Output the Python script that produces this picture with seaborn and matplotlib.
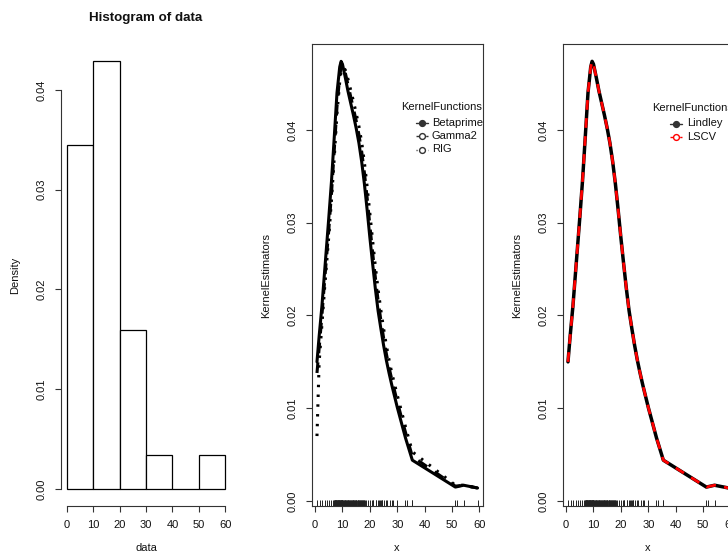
import matplotlib
matplotlib.use("Agg")
import matplotlib.pyplot as plt
from matplotlib.lines import Line2D
import seaborn as sns

# Observations (histogram + rug)
data = [
    0.7, 1.7, 2.7, 3.6, 4.4, 5.1, 5.8, 6.4,
    6.9, 7.0, 7.1, 7.2, 7.3, 7.4, 7.5, 7.6, 7.7, 7.8, 7.9, 8.0, 8.1, 8.2, 8.3,
    8.4, 8.5, 8.6, 8.7, 8.8, 8.9, 9.0, 9.1, 9.2, 9.3, 9.4, 9.5, 9.6, 9.7, 9.8,
    9.9, 9.9, 9.95,
    10.1, 10.3, 10.4, 10.6, 10.8, 10.9, 11.1, 11.2, 11.4, 11.6,
    11.7, 11.9, 12.0, 12.2, 12.4, 12.5, 12.7, 12.9, 13.0, 13.2,
    13.3, 13.5, 13.7, 13.8, 14.0, 14.2, 14.3, 14.5, 14.6, 14.8,
    15.0, 15.1, 15.3, 15.5, 15.6, 15.8, 16.0, 16.1, 16.3, 16.5,
    16.6, 16.8, 17.0, 17.2, 17.4, 17.6, 17.8, 18.0, 18.3, 18.7, 19.3,
    20.1, 20.6, 21.2, 21.2, 22.1, 22.1, 22.8, 23.3, 23.7, 24.1, 24.5, 24.5,
    25.2, 25.8, 26.4, 27.4, 27.9, 28.6, 29.9,
    33.0, 33.6, 35.2, 35.5,
    51.2, 51.8, 54.2, 59.3,
]
breaks = [0, 10, 20, 30, 40, 50, 60]

# Kernel density estimates evaluated on a grid
curve_x = [0.7, 1.5, 2.5, 3.5, 5, 6, 7, 8, 9, 9.5, 10, 11, 12, 13, 14, 15, 16,
           17, 18, 19, 20, 21, 22, 23, 24, 25, 26, 27, 28, 29, 30, 33, 35.5,
           51.2, 54.2, 59.3]
betaprime = [0.0150, 0.0178, 0.0210, 0.0248, 0.0305, 0.0345, 0.0392, 0.0440,
             0.0468, 0.0474, 0.0471, 0.0457, 0.0442, 0.0429, 0.0416, 0.0402,
             0.0386, 0.0366, 0.0342, 0.0314, 0.0284, 0.0256, 0.0229, 0.0205,
             0.0186, 0.0168, 0.0152, 0.0138, 0.0125, 0.0113, 0.0101, 0.0068,
             0.0044, 0.0015, 0.0017, 0.0014]
gamma2 = [0.0138, 0.0165, 0.0200, 0.0238, 0.0292, 0.0332, 0.0378, 0.0425,
          0.0458, 0.0468, 0.0470, 0.0462, 0.0449, 0.0436, 0.0423, 0.0410,
          0.0395, 0.0377, 0.0354, 0.0327, 0.0297, 0.0268, 0.0241, 0.0216,
          0.0195, 0.0176, 0.0159, 0.0144, 0.0131, 0.0119, 0.0107, 0.0074,
          0.0048, 0.0016, 0.0017, 0.0014]
rig = [0.0070, 0.0150, 0.0190, 0.0230, 0.0285, 0.0325, 0.0370, 0.0418,
       0.0452, 0.0463, 0.0467, 0.0465, 0.0455, 0.0443, 0.0431, 0.0418,
       0.0404, 0.0387, 0.0365, 0.0339, 0.0310, 0.0281, 0.0253, 0.0228,
       0.0206, 0.0186, 0.0168, 0.0152, 0.0138, 0.0126, 0.0114, 0.0080,
       0.0053, 0.0017, 0.0017, 0.0014]
lindley = [0.0150, 0.0178, 0.0210, 0.0248, 0.0305, 0.0345, 0.0392, 0.0440,
           0.0468, 0.0474, 0.0471, 0.0457, 0.0442, 0.0429, 0.0416, 0.0402,
           0.0386, 0.0366, 0.0342, 0.0314, 0.0284, 0.0256, 0.0229, 0.0205,
           0.0186, 0.0168, 0.0152, 0.0138, 0.0125, 0.0113, 0.0101, 0.0068,
           0.0044, 0.0015, 0.0017, 0.0014]
lscv = [0.0150, 0.0178, 0.0210, 0.0248, 0.0305, 0.0345, 0.0392, 0.0440,
        0.0468, 0.0474, 0.0471, 0.0457, 0.0442, 0.0429, 0.0416, 0.0402,
        0.0386, 0.0366, 0.0342, 0.0314, 0.0284, 0.0256, 0.0229, 0.0205,
        0.0186, 0.0168, 0.0152, 0.0138, 0.0125, 0.0113, 0.0101, 0.0068,
        0.0044, 0.0015, 0.0017, 0.0014]

x_ticks = [0, 10, 20, 30, 40, 50, 60]
y_ticks = [0.00, 0.01, 0.02, 0.03, 0.04]
y_tick_labels = ["0.00", "0.01", "0.02", "0.03", "0.04"]

sns.set_style("ticks")
plt.rcParams["font.family"] = ["Liberation Sans", "DejaVu Sans"]

W, H = 728, 560
TOP, BOTTOM, PW = 44, 506, 171
fig = plt.figure(figsize=(W / 100, H / 100), dpi=100)
fig.patch.set_facecolor("white")


def panel(left):
    return fig.add_axes([left / W, 1 - BOTTOM / H, PW / W, (BOTTOM - TOP) / H])


ax1 = panel(60.5)
ax2 = panel(311.5)
ax3 = panel(562.5)

AXC = "#333333"
TXT = "#111111"


def style(ax, xlabel, ylabel, boxed):
    ax.set_xticks(x_ticks)
    ax.set_xticklabels([str(v) for v in x_ticks])
    ax.set_yticks(y_ticks)
    ax.set_yticklabels(y_tick_labels, rotation=90, va="center")
    ax.tick_params(axis="both", direction="out", length=4.3, width=0.8,
                   color=AXC, labelsize=8, labelcolor=TXT)
    ax.tick_params(axis="x", pad=6)
    ax.tick_params(axis="y", pad=6)
    for s in ax.spines.values():
        s.set_color(AXC)
        s.set_linewidth(0.8)
    if not boxed:
        ax.spines["top"].set_visible(False)
        ax.spines["right"].set_visible(False)
        ax.spines["left"].set_bounds(0, 0.04)
        ax.spines["bottom"].set_bounds(0, 60)
    ax.set_xlabel(xlabel, fontsize=8, color=TXT)
    ax.set_ylabel(ylabel, fontsize=8, color=TXT)
    ax.xaxis.label.set_va("center")
    ax.yaxis.label.set_va("center")
    ax.xaxis.set_label_coords(0.5, -(548 - BOTTOM) / (BOTTOM - TOP))
    ax.yaxis.set_label_coords(-45 / PW, 0.5)
    ax.set_facecolor("white")


# Panel 1: histogram
sns.histplot(x=data, bins=breaks, stat="density", color="white",
             edgecolor="black", linewidth=0.9, alpha=1, ax=ax1)
ax1.set_xlim(-2.4, 62.4)
ax1.set_ylim(-0.00172, 0.0446)
style(ax1, "data", "Density", boxed=False)
ax1.text(0.5, (BOTTOM - 18) / (BOTTOM - TOP), "Histogram of data",
         transform=ax1.transAxes, ha="center", va="center",
         fontsize=9.6, fontweight="bold", color=TXT)

LW = 2.2

# Panel 2: three kernel estimators
sns.lineplot(x=curve_x, y=betaprime, ax=ax2, color="black", linewidth=LW,
             linestyle="-")
sns.lineplot(x=curve_x, y=gamma2, ax=ax2, color="black", linewidth=LW,
             linestyle=(0, (3.5, 3)))
sns.lineplot(x=curve_x, y=rig, ax=ax2, color="black", linewidth=LW,
             linestyle=(0, (0.8, 2.4)))
sns.rugplot(x=data, height=0.012, ax=ax2, color="#222222", linewidth=0.7,
            expand_margins=False)

# Panel 3: Lindley kernel vs LSCV bandwidth
sns.lineplot(x=curve_x, y=lindley, ax=ax3, color="black", linewidth=LW + 0.3,
             linestyle="-")
sns.lineplot(x=curve_x, y=lscv, ax=ax3, color="#ff0000", linewidth=LW - 0.2,
             linestyle=(0, (3.5, 3)))
sns.rugplot(x=data, height=0.012, ax=ax3, color="#222222", linewidth=0.7,
            expand_margins=False)

for ax in (ax2, ax3):
    ax.set_xlim(-1.3, 61.1)
    ax.set_ylim(-0.00054, 0.04927)
    style(ax, "x", "KernelEstimators", boxed=True)


def key(ax, left, title, title_x, sym_x, text_x, title_y, row_ys, entries):
    def fx(px):
        return (px - left) / PW

    def fy(py):
        return (BOTTOM - py) / (BOTTOM - TOP)

    ax.text(fx(title_x), fy(title_y), title, transform=ax.transAxes,
            ha="left", va="center", fontsize=8, color=TXT)
    for (label, color, ls, face), ry in zip(entries, row_ys):
        ln = Line2D([fx(sym_x - 6), fx(sym_x + 6)], [fy(ry), fy(ry)],
                    transform=ax.transAxes, color=color, linewidth=1.0,
                    linestyle=ls)
        ax.add_line(ln)
        mk = Line2D([fx(sym_x)], [fy(ry)], transform=ax.transAxes,
                    marker="o", markersize=4.2, markeredgewidth=1.0,
                    markeredgecolor=color, markerfacecolor=face,
                    linestyle="none")
        ax.add_line(mk)
        ax.text(fx(text_x), fy(ry), label, transform=ax.transAxes,
                ha="left", va="center", fontsize=8, color=TXT)


key(ax2, 311.5, "KernelFunctions", 401, 422, 432, 107, [122.5, 136, 149.5],
    [("Betaprime", "#333333", "-", "#333333"),
     ("Gamma2", "#333333", (0, (2, 1.5)), "white"),
     ("RIG", "#333333", (0, (0.8, 2)), "white")])
key(ax3, 562.5, "KernelFunctions", 652, 676, 687, 108, [123.5, 137],
    [("Lindley", "#333333", "-", "#333333"),
     ("LSCV", "#ff0000", (0, (2, 1.5)), "white")])

fig.savefig("out.png", dpi=100, facecolor="white")
